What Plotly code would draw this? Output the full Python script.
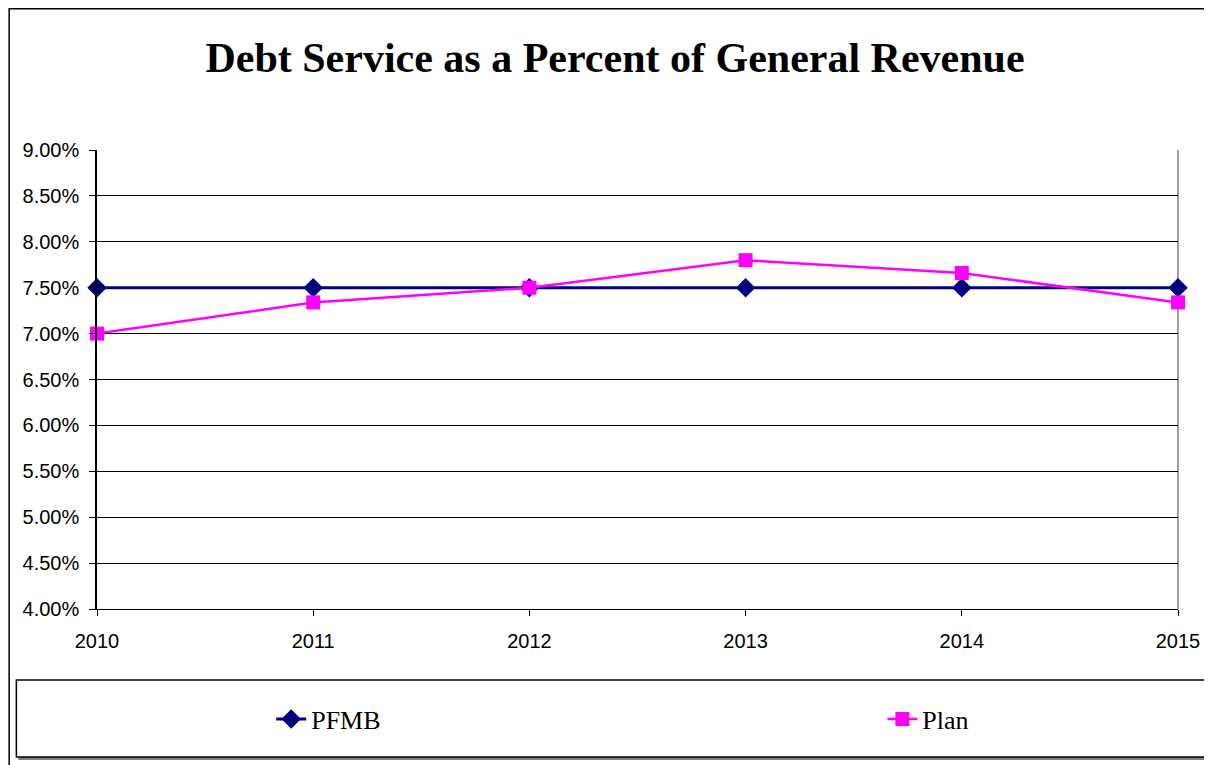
import plotly.graph_objects as go

years = [2010, 2011, 2012, 2013, 2014, 2015]
pfmb = [7.50, 7.50, 7.50, 7.50, 7.50, 7.50]
plan = [7.00, 7.34, 7.50, 7.80, 7.66, 7.34]
y_ticks = [4.0, 4.5, 5.0, 5.5, 6.0, 6.5, 7.0, 7.5, 8.0, 8.5, 9.0]
y_tick_text = [f"{v:.2f}%" for v in y_ticks]

# page body has an 8px margin, so the figure is laid out in coordinates shifted by 8px
OFF = 8
W, H = 1212 - OFF, 765 - OFF
L, R, T, B = 97 - OFF, 1183 - OFF, 150 - OFF, 609 - OFF


def px(x):
    return (x - OFF - L) / (R - L)


def py(y):
    return (B - (y - OFF)) / (B - T)


fig = go.Figure()
fig.add_trace(go.Scatter(
    x=years, y=pfmb, name="PFMB", mode="lines+markers",
    line=dict(color="#000080", width=3),
    marker=dict(symbol="diamond", size=15, color="#000080"),
    cliponaxis=False, legend="legend",
))
fig.add_trace(go.Scatter(
    x=years, y=plan, name="Plan", mode="lines+markers",
    line=dict(color="#FF00FF", width=2.5),
    marker=dict(symbol="square", size=14, color="#FF00FF"),
    cliponaxis=False, legend="legend2",
))

shapes = [
    # outer frame
    dict(type="rect", xref="paper", yref="paper",
         x0=px(OFF + 0.75), x1=px(1230), y0=py(790), y1=py(OFF + 0.75),
         line=dict(color="black", width=1.5), fillcolor="rgba(0,0,0,0)", layer="below"),
    # legend box shadow
    dict(type="line", xref="paper", yref="paper",
         x0=px(18), x1=px(1230), y0=py(758.5), y1=py(758.5),
         line=dict(color="#808080", width=3)),
    # legend box
    dict(type="rect", xref="paper", yref="paper",
         x0=px(16), x1=px(1230), y0=py(757), y1=py(680),
         line=dict(color="black", width=1.5), fillcolor="rgba(0,0,0,0)"),
    # right plot border
    dict(type="line", xref="paper", yref="paper",
         x0=1, x1=1, y0=0, y1=1,
         line=dict(color="#808080", width=1.5), layer="below"),
]

legend_font = dict(family="Liberation Serif", size=26, color="black")

fig.update_layout(
    width=W, height=H,
    margin=dict(l=L, r=W - R, t=T, b=H - B),
    paper_bgcolor="white", plot_bgcolor="white",
    title=dict(text="<b>Debt Service as a Percent of General Revenue</b>",
               xref="container", x=(615 - OFF) / W, xanchor="center",
               yref="container", y=1 - (57 - OFF) / H, yanchor="middle",
               font=dict(family="Liberation Serif", size=42, color="black")),
    xaxis=dict(range=[2010, 2015], tickmode="array", tickvals=years,
               ticktext=[str(y) for y in years],
               showgrid=False, zeroline=False, showline=True,
               linecolor="black", linewidth=1,
               ticks="outside", ticklen=6, tickcolor="black",
               tickfont=dict(family="Liberation Sans", size=20, color="black"),
               ticklabelstandoff=8),
    yaxis=dict(range=[4.0, 9.0], tickmode="array", tickvals=y_ticks,
               ticktext=y_tick_text,
               showgrid=True, gridcolor="black", gridwidth=1,
               zeroline=False, showline=True, linecolor="black", linewidth=1.5,
               ticks="outside", ticklen=6, tickcolor="black",
               tickfont=dict(family="Liberation Sans", size=20, color="black"),
               ticklabelstandoff=6),
    legend=dict(orientation="h", x=px(272), xanchor="left",
                y=py(719), yanchor="middle",
                font=legend_font, bgcolor="rgba(0,0,0,0)"),
    legend2=dict(orientation="h", x=px(886), xanchor="left",
                 y=py(719), yanchor="middle",
                 font=legend_font, bgcolor="rgba(0,0,0,0)"),
    shapes=shapes,
    showlegend=True,
)

fig.write_html("out.html")
